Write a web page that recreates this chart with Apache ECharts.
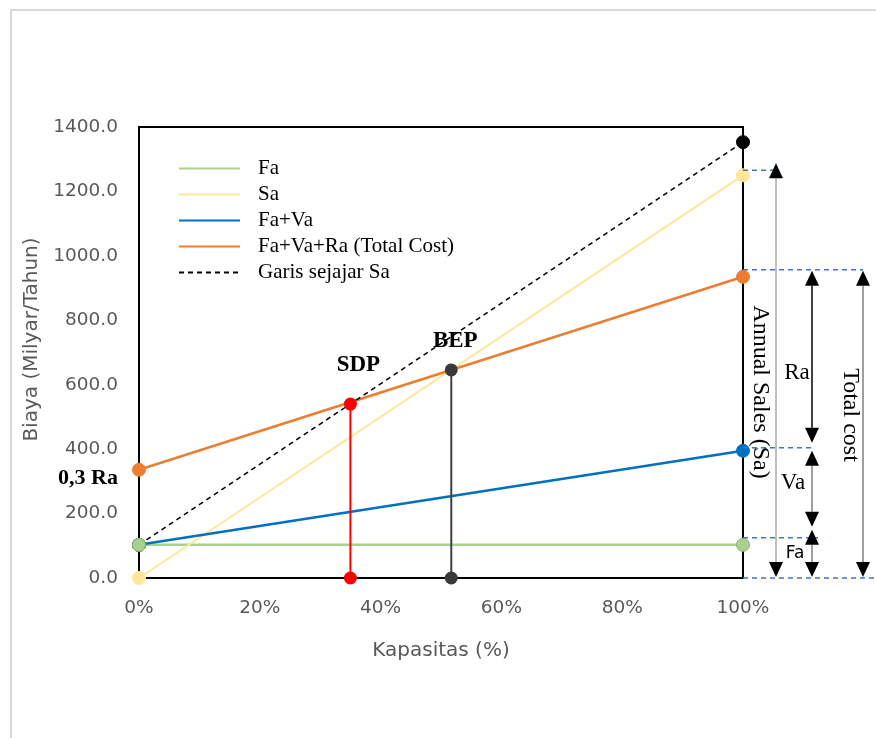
<!DOCTYPE html>
<html><head><meta charset="utf-8">
<script src="https://cdn.jsdelivr.net/npm/echarts@6/dist/echarts.min.js"></script>
<style>html,body{margin:0;padding:0;background:#fff}#c{width:876px;height:738px}</style>
</head><body><div id="c"></div>
<script>
// ---- data ----
const capacity = [0, 100];            // Kapasitas (%) at the two ends
const fa = [103, 103];                // Fa
const sa = [0, 1250];                 // Sa
const faVa = [103, 395];              // Fa+Va
const totalCost = [336, 935];         // Fa+Va+Ra (Total Cost)
const parallelSa = [103, 1353];       // Garis sejajar Sa
const sdp = [35, 540];                // SDP [capacity %, cost]
const bep = [51.7, 646];              // BEP [capacity %, cost]
const seriesNames = ['Fa', 'Sa', 'Fa+Va', 'Fa+Va+Ra (Total Cost)', 'Garis sejajar Sa'];
const yMin = 0, yMax = 1400, yStep = 200;
const xMin = 0, xMax = 100, xStep = 20;

const pts = arr => capacity.map((c, i) => [c, arr[i]]);
const colors = ['#A9D18E', '#FFE699', '#0070C0', '#ED7D31', '#000000'];
const widths = [2.5, 2, 2.5, 2.5, 1.5];
const lineData = [fa, sa, faVa, totalCost, parallelSa];

const chart = echarts.init(document.getElementById('c'), null, {renderer: 'canvas'});

const lineSeries = lineData.map((d, i) => ({
  name: seriesNames[i], type: 'line', data: pts(d), symbol: 'none',
  lineStyle: {color: colors[i], width: widths[i], type: i === 4 ? [5, 4] : 'solid'},
  itemStyle: {color: colors[i]}, z: 2
}));

// vertical drop lines
const dropSeries = [[sdp, '#FF0000'], [bep, '#404040']].map(([p, c]) => ({
  type: 'line', data: [[p[0], 0], [p[0], p[1]]], symbol: 'none',
  lineStyle: {color: c, width: 2}, z: 3, silent: true
}));

// markers: order bottom -> top
const markerOrder = [4, 2, 3, 1, 0];
const markerSeries = markerOrder.map(i => ({
  type: 'scatter', data: pts(lineData[i]), symbolSize: 13,
  itemStyle: {color: colors[i], opacity: 1, borderColor: i === 0 ? '#8DB870' : colors[i], borderWidth: 1},
  z: 4, silent: true
}));
const pointSeries = [[sdp, '#FF0000'], [bep, '#3A3A3A']].map(([p, c]) => ({
  type: 'scatter', data: [[p[0], 0], [p[0], p[1]]], symbolSize: 13,
  itemStyle: {color: c, opacity: 1}, z: 5, silent: true
}));

function arrow(x, yTop, yBot, lineColor, lw) {
  const hw = 7, hh = 15;
  return [
    {type: 'line', shape: {x1: x, y1: yTop + hh, x2: x, y2: yBot - hh}, style: {stroke: lineColor, lineWidth: lw}},
    {type: 'polygon', shape: {points: [[x, yTop], [x - hw, yTop + hh], [x + hw, yTop + hh]]}, style: {fill: '#000'}},
    {type: 'polygon', shape: {points: [[x, yBot], [x - hw, yBot - hh], [x + hw, yBot - hh]]}, style: {fill: '#000'}}
  ];
}
function dash(x1, x2, y) {
  return {type: 'line', shape: {x1, y1: y, x2, y2: y}, style: {stroke: '#4472C4', lineWidth: 1.5, lineDash: [5, 4]}};
}
function txt(x, y, text, font, rot) {
  return {type: 'text', x, y, rotation: rot || 0,
    style: {text, font, fill: '#000', align: 'center', verticalAlign: 'middle'}};
}

function renderAnnot(params, api) {
  const p = v => api.coord([capacity[1], v]);
  const x0 = p(0)[0];
  const yS = p(sa[1])[1], yT = p(totalCost[1])[1], yV = p(faVa[1])[1], yF = p(fa[1])[1], yZ = p(0)[1];
  const dS = yS - 5, dT = yT - 7, dV = yV - 3, dF = yF - 7, dZ = yZ;
  const serif = '23px "Liberation Serif"';
  const serifBig = '24px "Liberation Serif"';
  const sdpP = api.coord(sdp), bepP = api.coord(bep), tc0 = api.coord([capacity[0], totalCost[0]]);
  const children = [
    dash(x0, x0 + 34, dS), dash(x0, x0 + 120, dT), dash(x0, x0 + 69, dV), dash(x0, x0 + 75, dF), dash(x0, x0 + 140, dZ),
    ...arrow(x0 + 33, dS - 7, dZ - 1, '#808080', 1),
    ...arrow(x0 + 69, dT + 1, dV - 5, '#000', 1.5),
    ...arrow(x0 + 69, dV + 3, dF - 11, '#808080', 1.5),
    ...arrow(x0 + 69, dF - 8, dZ - 1, '#808080', 1.5),
    ...arrow(x0 + 120, dT + 1, dZ - 1, '#404040', 1),
    txt(x0 + 17, yZ - 186, 'Annual Sales (Sa)', serifBig, -Math.PI / 2),
    txt(x0 + 107, yZ - 163, 'Total cost', serifBig, -Math.PI / 2),
    txt(x0 + 54, (yT + yV) / 2 + 9, 'Ra', serif),
    txt(x0 + 50, (yV + yF) / 2 - 15, 'Va', serif),
    txt(x0 + 52, (yF + yZ) / 2 - 8, 'Fa', '17px "DejaVu Sans"'),
    txt(sdpP[0] + 8, sdpP[1] - 39, 'SDP', 'bold 23px "Liberation Serif"'),
    txt(bepP[0] + 4, bepP[1] - 29, 'BEP', 'bold 23px "Liberation Serif"'),
    txt(tc0[0] - 51, tc0[1] + 9, '0,3 Ra', 'bold 22px "Liberation Serif"')
  ];
  return {type: 'group', children};
}

const annotSeries = {
  type: 'custom', data: [[capacity[1], 0]], renderItem: renderAnnot, z: 6, silent: true, clip: false
};

const axisText = {color: '#595959', fontFamily: 'DejaVu Sans', fontSize: 18.5};

chart.setOption({
  animation: false,
  backgroundColor: '#fff',
  graphic: [{type: 'rect', shape: {x: 11, y: 10, width: 900, height: 800},
    style: {fill: 'none', stroke: '#D9D9D9', lineWidth: 2}, silent: true}],
  grid: {left: 139, right: 133, top: 127, bottom: 160, show: true, borderColor: '#000', borderWidth: 2},
  legend: {
    data: seriesNames, orient: 'vertical', left: 178, top: 158, padding: 0,
    itemWidth: 61, itemHeight: 14, itemGap: 5,
    itemStyle: {opacity: 0},
    textStyle: {fontFamily: 'Liberation Serif', fontSize: 21, color: '#000', lineHeight: 20, padding: [0, 0, 0, 13]}
  },
  xAxis: {
    type: 'value', min: xMin, max: xMax, interval: xStep,
    name: 'Kapasitas (%)', nameLocation: 'middle', nameGap: 63,
    nameTextStyle: {color: '#595959', fontFamily: 'DejaVu Sans', fontSize: 20},
    axisLine: {lineStyle: {color: '#000', width: 2}}, axisTick: {show: false},
    axisLabel: Object.assign({margin: 21, formatter: v => v + '%'}, axisText),
    splitLine: {show: false}
  },
  yAxis: {
    type: 'value', min: yMin, max: yMax, interval: yStep,
    name: 'Biaya (Milyar/Tahun)', nameLocation: 'middle', nameGap: 97,
    nameTextStyle: {color: '#595959', fontFamily: 'DejaVu Sans', fontSize: 20, padding: [0, 0, 0, 26]},
    axisLine: {show: true, lineStyle: {color: '#000', width: 2}}, axisTick: {show: false},
    axisLabel: Object.assign({margin: 21, formatter: v => v.toFixed(1)}, axisText),
    splitLine: {show: false}
  },
  series: [...lineSeries, ...dropSeries, ...markerSeries, ...pointSeries, annotSeries]
});
</script></body></html>
